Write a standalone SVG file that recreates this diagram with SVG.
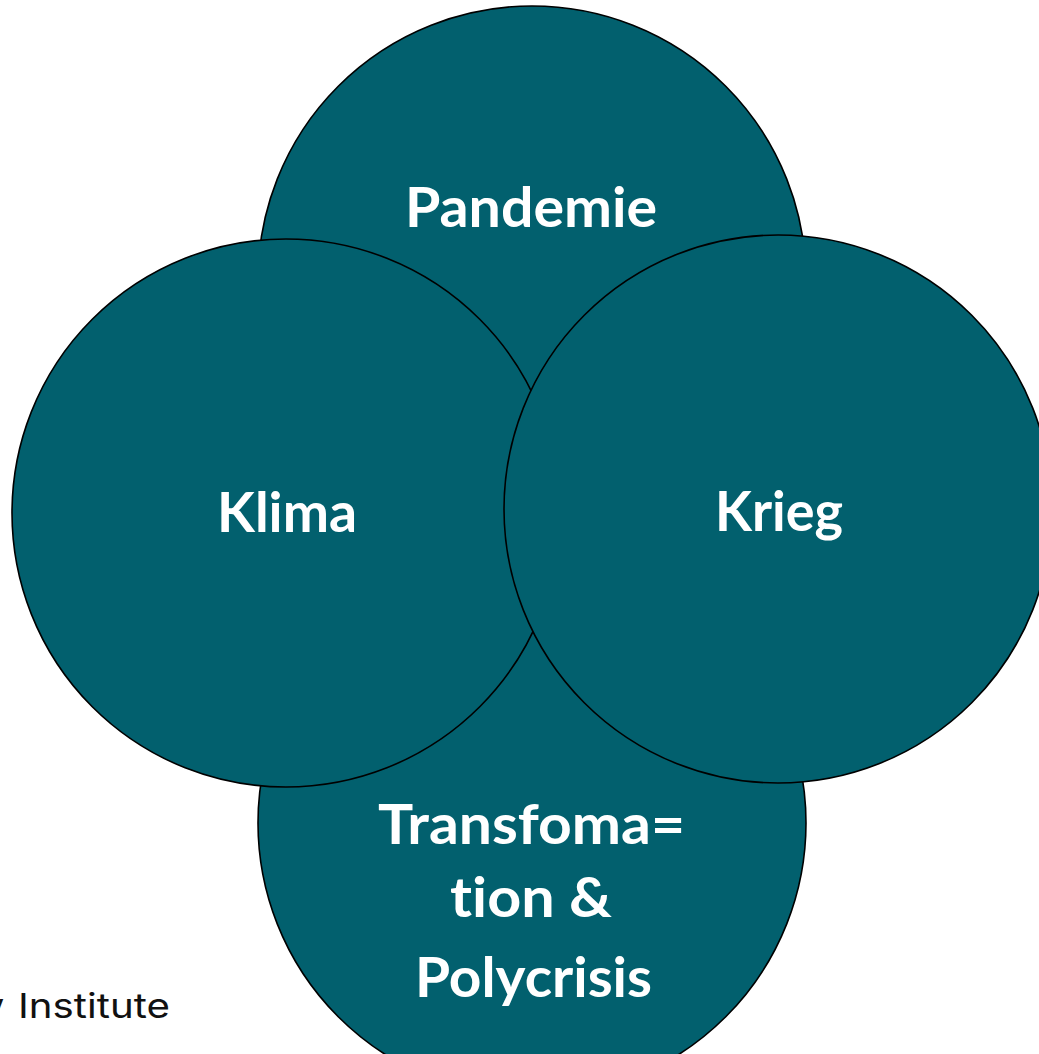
<svg xmlns="http://www.w3.org/2000/svg" width="1039" height="1054" viewBox="0 0 1039 1054">
  <style>
    .c { fill: #02606e; stroke: #000; stroke-width: 1.6; }
    .t { fill: #ffffff; font-family: Lato, "Open Sans", "Liberation Sans", sans-serif; font-weight: bold; font-size: 55px; font-variant-ligatures: none; }
    .f { fill: #111111; font-family: Inter, "Liberation Sans", sans-serif; font-weight: 400; font-size: 34px; }
  </style>
  <rect width="1039" height="1054" fill="#ffffff"/>
  <text class="f" x="-15" y="1018">y</text>
  <text class="f" x="18" y="1018" textLength="152" lengthAdjust="spacingAndGlyphs">Institute</text>
  <g id="pandemie">
    <circle class="c" cx="532" cy="280" r="274"/>
    <text class="t" x="405" y="227" textLength="252" lengthAdjust="spacingAndGlyphs">Pandemie</text>
  </g>
  <g id="transformation">
    <circle class="c" cx="532" cy="823" r="274"/>
    <text class="t" x="378" y="844" textLength="307" lengthAdjust="spacingAndGlyphs">Transfoma=</text>
    <text class="t" x="450" y="917" textLength="162" lengthAdjust="spacingAndGlyphs">tion &amp;</text>
    <text class="t" x="415" y="997" textLength="237" lengthAdjust="spacingAndGlyphs">Polycrisis</text>
  </g>
  <g id="klima">
    <circle class="c" cx="286" cy="513" r="274"/>
    <text class="t" x="217" y="532" textLength="140" lengthAdjust="spacingAndGlyphs">Klima</text>
  </g>
  <g id="krieg">
    <circle class="c" cx="778" cy="509" r="274"/>
    <text class="t" x="715" y="531" textLength="128" lengthAdjust="spacingAndGlyphs">Krieg</text>
  </g>
  <g id="connectors"></g>
</svg>
